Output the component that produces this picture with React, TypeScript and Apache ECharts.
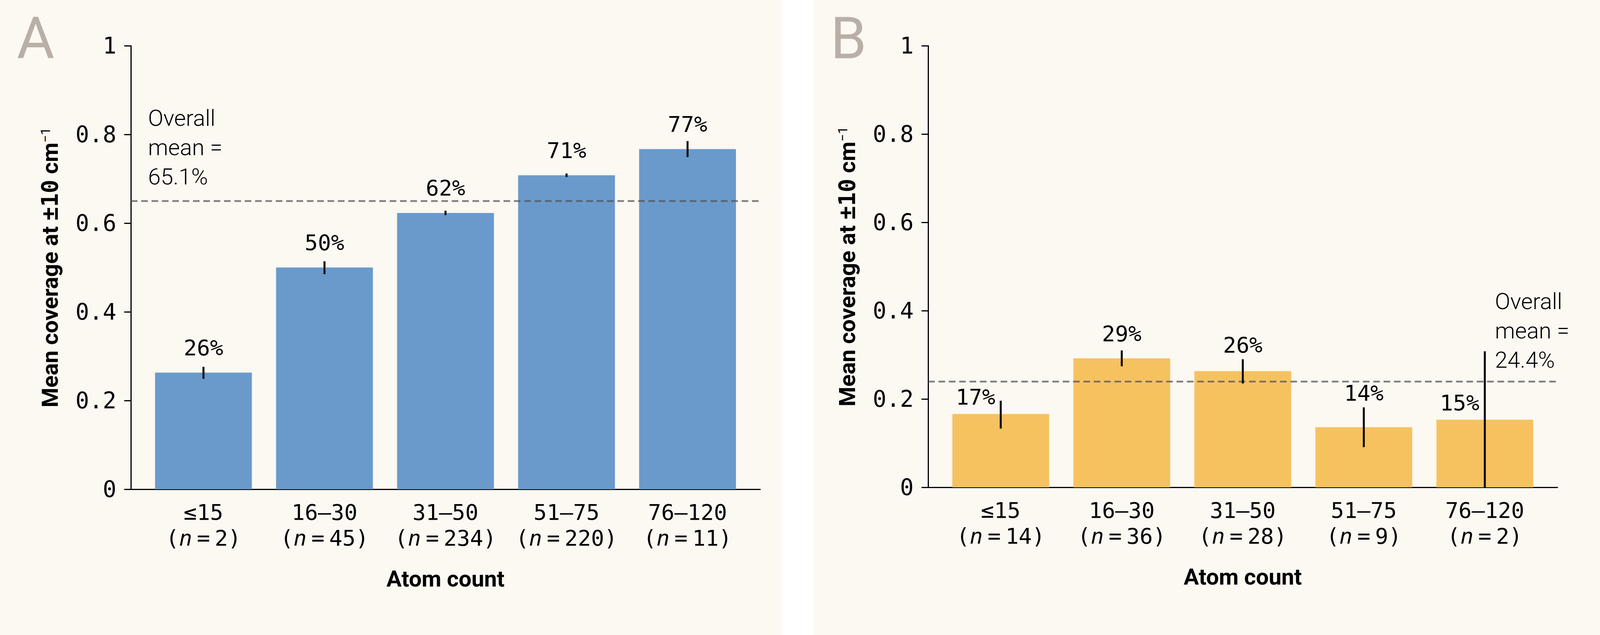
import React, { useEffect, useRef } from "react";
import * as echarts from "echarts";

// ---------- data ----------
const categories = ["≤15", "16–30", "31–50", "51–75", "76–120"];

const nA = [2, 45, 234, 220, 11];
const meanA = [0.263, 0.5, 0.623, 0.708, 0.767];
const lowA = [0.249, 0.485, 0.618, 0.704, 0.749];
const highA = [0.276, 0.514, 0.628, 0.712, 0.785];
const overallA = 0.651;

const nB = [14, 36, 28, 9, 2];
const meanB = [0.166, 0.292, 0.263, 0.136, 0.153];
const lowB = [0.133, 0.274, 0.235, 0.091, 0.0];
const highB = [0.196, 0.31, 0.29, 0.181, 0.308];
const overallB = 0.244;

// label placement ("left" = beside the error bar, "above" = over the bar)
const placeA = ["above", "above", "above", "above", "above"];
const placeB = ["left", "above", "above", "above", "left"];

const yTicks = [0, 0.2, 0.4, 0.6, 0.8, 1];

// ---------- style ----------
const SANS = "Roboto, 'Noto Sans', 'DejaVu Sans', sans-serif";
const MONO = "'DejaVu Sans Mono', 'Liberation Mono', monospace";
const BLUE = "#6a9acb";
const ORANGE = "#f6c260";
const BG = "#fcf8f2";
const LETTER = "#b9afa7";
const MEANLINE = "rgba(80,80,80,0.72)";

const X_MIN = -0.6;
const X_MAX = 4.6;
const GRID_W = 1611;

const grids = [
  { left: 335, top: 117, width: GRID_W, height: 1135 },
  { left: 2376, top: 117, width: GRID_W, height: 1130 },
];

const pct = (v: number) => `${Math.round(v * 100)}%`;

function makeX(gridIndex: number, ns: number[]) {
  return {
    type: "value",
    gridIndex,
    min: X_MIN,
    max: X_MAX,
    axisLine: { show: true, onZero: false, lineStyle: { color: "#000", width: 3 } },
    axisTick: { show: false },
    splitLine: { show: false },
    axisLabel: {
      show: true,
      customValues: [0, 1, 2, 3, 4],
      margin: 25,
      lineHeight: 66,
      formatter: (v: number) => {
        const i = Math.round(v);
        return `{m|${categories[i]}}\n{m|(}{i|n}{e|=}{m|${ns[i]})}`;
      },
      rich: {
        m: { fontFamily: MONO, fontSize: 56, color: "#000", lineHeight: 66 },
        i: { fontFamily: MONO, fontSize: 56, fontStyle: "italic", color: "#000", lineHeight: 66 },
        e: { fontFamily: MONO, fontSize: 56, color: "#000", lineHeight: 66, width: 58, align: "center" },
      },
    },
    name: "Atom count",
    nameLocation: "middle",
    nameGap: 200,
    nameTextStyle: { fontFamily: SANS, fontWeight: "bold", fontSize: 58, color: "#000" },
  };
}

function makeY(gridIndex: number) {
  return {
    type: "value",
    gridIndex,
    min: 0,
    max: 1,
    interval: 0.2,
    axisLine: { show: true, onZero: false, lineStyle: { color: "#000", width: 3 } },
    axisTick: { show: true, length: 17, lineStyle: { color: "#000", width: 3 } },
    splitLine: { show: false },
    axisLabel: {
      fontFamily: MONO,
      fontSize: 58,
      color: "#000",
      margin: 37,
      formatter: (v: number) => {
        const t = yTicks.find((k) => Math.abs(k - v) < 1e-6);
        return t === undefined ? "" : String(t);
      },
    },
    name: "{b|Mean coverage at }{m|±10}{b| cm}{s|−1}",
    nameLocation: "middle",
    nameRotate: 90,
    nameGap: 178,
    nameTextStyle: {
      rich: {
        b: { fontFamily: SANS, fontWeight: "bold", fontSize: 58, color: "#000" },
        m: { fontFamily: MONO, fontWeight: "bold", fontSize: 58, color: "#000" },
        s: { fontFamily: SANS, fontSize: 34, color: "#000", verticalAlign: "top" },
      },
    },
  };
}

function errorSeries(idx: number, lows: number[], highs: number[], overall: number) {
  return {
    type: "custom",
    xAxisIndex: idx,
    yAxisIndex: idx,
    z: 5,
    data: lows.map((lo, i) => [i, lo, highs[i]]),
    renderItem: (params: any, api: any) => {
      const x = api.value(0);
      const p1 = api.coord([x, api.value(1)]);
      const p2 = api.coord([x, api.value(2)]);
      return {
        type: "line",
        shape: { x1: p1[0], y1: p1[1], x2: p2[0], y2: p2[1] },
        style: { stroke: "#000", lineWidth: 5 },
      };
    },
    markLine: {
      silent: true,
      symbol: ["none", "none"],
      label: { show: false },
      lineStyle: { color: MEANLINE, width: 4.6, type: [17, 9.5] },
      emphasis: { disabled: true },
      data: [{ yAxis: overall }],
    },
  };
}

function labelSeries(idx: number, means: number[], highs: number[], places: string[]) {
  return {
    type: "custom",
    xAxisIndex: idx,
    yAxisIndex: idx,
    z: 6,
    data: means.map((m, i) => [i, m, highs[i]]),
    renderItem: (params: any, api: any) => {
      const i = params.dataIndex;
      const x = api.value(0);
      const top = api.coord([x, api.value(1)]);
      const errTop = api.coord([x, api.value(2)]);
      const text = pct(api.value(1));
      let px = top[0];
      let baseline: number;
      let align = "center";
      if (places[i] === "left") {
        px = top[0] - 14;
        baseline = top[1] - 24;
        align = "right";
      } else {
        baseline = Math.min(top[1] - 44, errTop[1] - 17);
      }
      return {
        type: "text",
        x: px,
        y: baseline - 20,
        style: {
          text,
          fontFamily: MONO,
          fontSize: 56,
          fill: "#000",
          align,
          verticalAlign: "middle",
        },
      };
    },
  };
}

function barSeries(idx: number, means: number[], color: string) {
  return {
    type: "bar",
    xAxisIndex: idx,
    yAxisIndex: idx,
    barWidth: (0.8 * GRID_W) / (X_MAX - X_MIN),
    itemStyle: { color },
    z: 2,
    data: means.map((m, i) => [i, m]),
  };
}

function meanText(v: number) {
  return `Overall\nmean =\n${(v * 100).toFixed(1)}%`;
}

export default function App() {
  const ref = useRef<HTMLDivElement>(null);
  useEffect(() => {
    if (!ref.current) return;
    const chart = echarts.init(ref.current, null, { renderer: "svg" });
    chart.setOption({
      animation: false,
      backgroundColor: "transparent",
      grid: grids,
      xAxis: [makeX(0, nA), makeX(1, nB)],
      yAxis: [makeY(0), makeY(1)],
      series: [
        barSeries(0, meanA, BLUE),
        errorSeries(0, lowA, highA, overallA),
        labelSeries(0, meanA, highA, placeA),
        barSeries(1, meanB, ORANGE),
        errorSeries(1, lowB, highB, overallB),
        labelSeries(1, meanB, highB, placeB),
      ],
      graphic: [
        {
          type: "text",
          x: 43,
          y: 24,
          style: { text: "A", font: `148px ${SANS}`, fill: LETTER, verticalAlign: "top" },
        },
        {
          type: "text",
          x: 2126,
          y: 24,
          style: { text: "B", font: `148px ${SANS}`, fill: LETTER, verticalAlign: "top" },
        },
        {
          type: "text",
          x: 379,
          y: 264,
          style: {
            text: meanText(overallA),
            font: `300 58px ${SANS}`,
            lineHeight: 75,
            fill: "#000",
            verticalAlign: "top",
          },
        },
        {
          type: "text",
          x: 3827,
          y: 733,
          style: {
            text: meanText(overallB),
            font: `300 58px ${SANS}`,
            lineHeight: 75,
            fill: "#000",
            verticalAlign: "top",
          },
        },
      ],
    });
    return () => chart.dispose();
  }, []);

  return (
    <div
      ref={ref}
      style={{
        position: "fixed",
        left: 0,
        top: 0,
        width: 4167,
        height: 1625,
        background: `linear-gradient(to right, ${BG} 0px, ${BG} 2000px, #ffffff 2000px, #ffffff 2083px, ${BG} 2083px, ${BG} 4167px)`,
      }}
    />
  );
}
